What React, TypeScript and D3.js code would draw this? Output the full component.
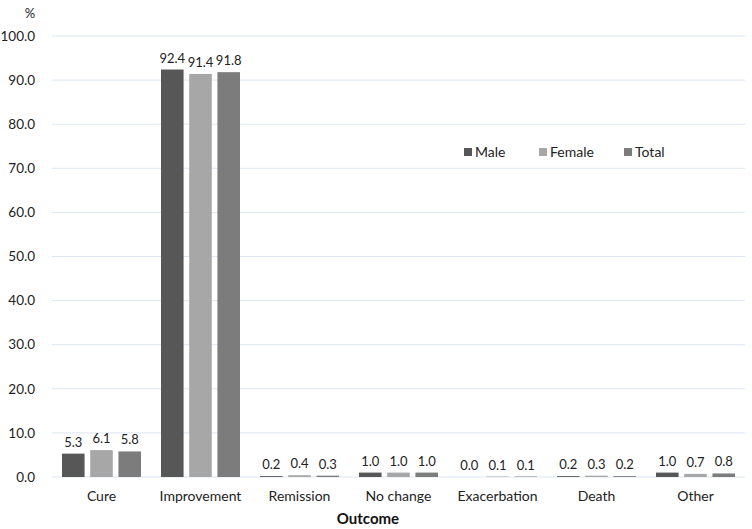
import React from "react";
import * as d3 from "d3";

const categories = ["Cure", "Improvement", "Remission", "No change", "Exacerbation", "Death", "Other"];
const seriesNames = ["Male", "Female", "Total"];
const male = [5.3, 92.4, 0.2, 1.0, 0.0, 0.2, 1.0];
const female = [6.1, 91.4, 0.4, 1.0, 0.1, 0.3, 0.7];
const total = [5.8, 91.8, 0.3, 1.0, 0.1, 0.2, 0.8];
const yTicks = [0, 10, 20, 30, 40, 50, 60, 70, 80, 90, 100];
const colors = ["#575757", "#a7a7a7", "#7c7c7c"];

export default function App() {
  const W = 752, H = 529;
  const left = 52, right = 745, top = 36, bottom = 477;
  const font = "Lato, 'Open Sans', sans-serif";
  const series = [male, female, total];
  const x = d3.scaleBand<string>().domain(categories).range([left, right]).paddingInner(0).paddingOuter(0);
  const xs = d3.scaleBand<string>().domain(seriesNames).range([10, x.bandwidth() - 10]).paddingInner(0.2);
  const y = d3.scaleLinear().domain([0, 100]).range([bottom, top]);
  const legendX = [464, 539, 624];
  return (
    <svg width={W} height={H} style={{ position: "absolute", left: 0, top: 0, background: "#fff" }} fontFamily={font}>
      <rect width={W} height={H} fill="#fff" />
      {yTicks.map((t) => (
        <g key={t}>
          <line x1={left} x2={right} y1={y(t)} y2={y(t)} stroke="#dce6f2" strokeWidth={1} />
          <text x={35} y={y(t)} dy="0.35em" textAnchor="end" fontSize={13.5} fill="#222">{t.toFixed(1)}</text>
        </g>
      ))}
      <text x={30} y={13} dy="0.35em" textAnchor="middle" fontSize={13} fill="#222">%</text>
      {series.map((vals, si) =>
        vals.map((v, ci) => {
          const bx = (x(categories[ci]) as number) + (xs(seriesNames[si]) as number);
          const by = y(v);
          return (
            <g key={si + "-" + ci}>
              <rect x={bx} y={by} width={xs.bandwidth()} height={Math.max(bottom - by, 0)} fill={colors[si]} />
              <text x={bx + xs.bandwidth() / 2} y={by - 7} textAnchor="middle" fontSize={13} fill="#222">{v.toFixed(1)}</text>
            </g>
          );
        })
      )}
      {categories.map((c) => (
        <text key={c} x={(x(c) as number) + x.bandwidth() / 2} y={501} textAnchor="middle" fontSize={14} fill="#222">{c}</text>
      ))}
      <text x={368} y={524} textAnchor="middle" fontSize={15} fontWeight="bold" fill="#111">Outcome</text>
      {seriesNames.map((s, i) => (
        <g key={s}>
          <rect x={legendX[i]} y={148} width={8} height={8} fill={colors[i]} />
          <text x={legendX[i] + 11} y={152} dy="0.35em" fontSize={14} fill="#222">{s}</text>
        </g>
      ))}
    </svg>
  );
}
